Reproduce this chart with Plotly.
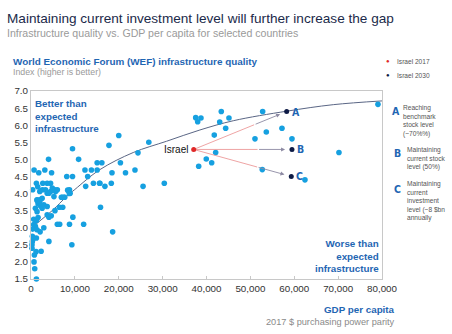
import plotly.graph_objects as go

# ---- Data ----
country_gdp = [
    # dense low-income cluster
    3690, 4460, 5610, 6920, 7540, 8920, 1380, 2000, 1610, 2150, 1000, 1380, 2540, 2920, 3690,
    5460, 6460, 7230, 3690, 4080, 4610, 620, 1230, 1610, 620, 1000, 380, 1380, 2920, 2080,
    310, 620, 1230, 310, 230, 230, 1150, 2310, 770, 690, 850, 1230, 4080, 9310, 9540,
    8770, 12000, 6000, 6540, 15840, 18610,
    1230, 2690, 3690, 4460, 385, 1540, 2610, 3300, 4850, 5460, 6000, 4080, 2000, 2540,
    1380, 2000, 5230, 7150, 7690, 8770, 8360, 8730,
    # middle group
    4000, 700, 1770, 3150, 4690, 8150, 9460, 9460, 10850,
    20000, 26850, 17770, 24380, 15080, 16150, 20380,
    12300, 13770, 15080, 18460, 21540, 23700, 12920,
    18300, 14230, 15620, 16850, 12460, 25540, 30380, 15700,
    # high-income group
    37540, 38740, 37990, 43370, 45120, 43010, 41770, 44370, 52800, 53630, 51050,
    42090, 39950, 41180, 38220, 52710, 57200, 59480, 70190, 62440, 79080,
]
country_wef = [
    4.01, 4.06, 4.06, 3.89, 3.89, 4.01, 3.82, 3.82, 3.70, 3.64, 3.57, 3.47, 3.57, 3.67, 3.62,
    3.50, 3.60, 3.60, 3.38, 3.31, 3.35, 3.25, 3.21, 3.30, 3.09, 3.04, 2.96, 2.94, 3.00, 2.88,
    2.75, 2.70, 2.70, 2.60, 2.50, 2.40, 2.30, 2.31, 2.20, 2.00, 1.80, 1.50, 2.60, 2.50, 3.31,
    3.10, 3.10, 3.10, 3.10, 3.60, 2.88,
    4.30, 4.30, 4.30, 4.30, 4.11, 4.20, 4.11, 4.11, 4.16, 4.11, 4.11, 4.01, 4.06, 3.86,
    3.80, 3.77, 3.91, 3.89, 3.89, 4.11, 4.10, 4.00,
    5.00, 4.69, 4.61, 4.69, 4.61, 4.50, 4.50, 5.31, 5.00,
    5.70, 5.50, 5.41, 5.19, 4.90, 4.90, 4.90,
    4.69, 4.69, 4.69, 4.61, 4.61, 4.69, 4.50,
    4.30, 4.30, 4.30, 4.21, 4.21, 4.21, 4.30, 4.30,
    6.22, 6.21, 6.10, 6.40, 6.21, 6.09, 5.71, 5.91, 6.40, 5.80, 5.60,
    5.20, 5.01, 4.90, 4.80, 4.70, 5.91, 5.60, 5.20, 4.40, 6.61,
]

fit_gdp = [0, 2500, 5000, 8000, 10000, 15700, 23300, 30900, 38500, 46100, 58300, 68900, 80000]
fit_wef = [2.98, 3.25, 3.52, 3.90, 4.12, 4.70, 5.20, 5.53, 5.86, 6.13, 6.41, 6.60, 6.71]

israel_2017 = (37080, 5.29)
scenario_labels = ["A", "B", "C"]
scenario_gdp = [58270, 59480, 59320]
scenario_wef = [6.40, 5.29, 4.50]
scenario_text = [
    "Reaching<br>benchmark<br>stock level<br>(~70%%)",
    "Maintaining<br>current stock<br>level (50%)",
    "Maintaining<br>current<br>investment<br>level (~8 $bn<br>annually",
]

x_ticks = [0, 10000, 20000, 30000, 40000, 50000, 60000, 70000, 80000]
y_ticks = [1.5, 2.0, 2.5, 3.0, 3.5, 4.0, 4.5, 5.0, 5.5, 6.0, 6.5, 7.0]

# ---- Layout geometry ----
W, H = 452, 334
L, R, T, B = 31, 382, 91, 279

def px(x, y):
    return (x - L) / (R - L), (B - y) / (B - T)

BLUE = "#16a0e0"
NAVY = "#0d1a45"
TXTBLUE = "#1f66b3"
FONT = "Liberation Sans, Arial, sans-serif"
NARROW = "Liberation Sans Narrow, DejaVu Sans Condensed, " + FONT

fig = go.Figure()

fig.add_trace(go.Scatter(x=fit_gdp, y=fit_wef, mode="lines",
                         line=dict(color="#5a6685", width=1, shape="spline", smoothing=1.0),
                         hoverinfo="skip", showlegend=False))

fig.add_trace(go.Scatter(x=country_gdp, y=country_wef, mode="markers",
                         marker=dict(color=BLUE, size=5.6), cliponaxis=False,
                         showlegend=False))

# arrows from Israel 2017 to scenarios
for gx, gy in zip(scenario_gdp, scenario_wef):
    dx = gx - israel_2017[0]
    dy = gy - israel_2017[1]
    ex, ey = israel_2017[0] + dx * 0.93, israel_2017[1] + dy * 0.93
    mx, my = israel_2017[0] + dx * 0.65, israel_2017[1] + dy * 0.65
    fig.add_trace(go.Scatter(x=[israel_2017[0], mx], y=[israel_2017[1], my], mode="lines",
                             line=dict(color="#ec9a9a", width=0.9), hoverinfo="skip",
                             showlegend=False))
    fig.add_annotation(x=ex, y=ey, ax=mx, ay=my, xref="x", yref="y", axref="x", ayref="y",
                       text="", showarrow=True, arrowhead=2, arrowsize=0.9,
                       arrowwidth=0.9, arrowcolor="#8d8aa3")

fig.add_trace(go.Scatter(x=scenario_gdp, y=scenario_wef, mode="markers",
                         marker=dict(color=NAVY, size=5), showlegend=False, cliponaxis=False))
fig.add_trace(go.Scatter(x=[israel_2017[0]], y=[israel_2017[1]], mode="markers",
                         marker=dict(color="#e02828", size=5), showlegend=False, cliponaxis=False))

# scenario letters beside the dark points
for lab, gx, gy in zip(scenario_labels, scenario_gdp, scenario_wef):
    fig.add_annotation(x=gx, y=gy, xref="x", yref="y", text="<b>%s</b>" % lab,
                       showarrow=False, xanchor="left", xshift=3,
                       font=dict(size=10.5, color=TXTBLUE, family=NARROW))

fig.add_annotation(x=israel_2017[0], y=israel_2017[1], xref="x", yref="y", text="Israel",
                   showarrow=False, xanchor="right", xshift=-4,
                   font=dict(size=10, color="#111", family=FONT))

def ann(x, y, text, size, color, xanchor="left", yanchor="middle", bold=False, align="left"):
    ax_, ay_ = px(x, y)
    fig.add_annotation(x=ax_, y=ay_, xref="paper", yref="paper",
                       text=("<b>%s</b>" % text) if bold else text, showarrow=False,
                       xanchor=xanchor, yanchor=yanchor, align=align,
                       font=dict(size=size, color=color, family=FONT))

ann(5, 18, "Maintaining current investment level will further increase the gap", 13.6, "#1b2a4a")
ann(5, 33, "Infrastructure quality vs. GDP per capita for selected countries", 10.6, "#9a9a9a")
ann(11, 61, "World Economic Forum (WEF) infrastructure quality", 9.9, TXTBLUE, bold=True)
ann(11, 72, "Index (higher is better)", 8.8, "#9a9a9a")

ann(33, 116, "Better than<br>expected<br>infrastructure", 9.8, TXTBLUE, bold=True)
ann(381, 256, "Worse than<br>expected<br>infrastructure", 9.8, TXTBLUE, xanchor="right",
    bold=True, align="right")

ann(397, 309, "GDP per capita", 9.8, TXTBLUE, xanchor="right", bold=True)
ann(397, 322, "2017 $ purchasing power parity", 9.2, "#8a8a8a", xanchor="right")

# legend
for yy, col, lab in [(61, "#e02828", "Israel 2017"), (75, NAVY, "Israel 2030")]:
    ann(388, yy, "●", 6, col, xanchor="center")
    ann(395, yy, lab, 6.6, "#555")

# right-hand scenario notes
for lab, lx, ly, tx, ty, txt in [
    ("A", 396, 111, 401, 120.5, scenario_text[0]),
    ("B", 398, 153, 405, 158, scenario_text[1]),
    ("C", 398, 189, 405, 200.5, scenario_text[2]),
]:
    a_x, a_y = px(lx, ly)
    fig.add_annotation(x=a_x, y=a_y, xref="paper", yref="paper", text="<b>%s</b>" % lab,
                       showarrow=False, xanchor="center", yanchor="middle",
                       font=dict(size=10.5, color=TXTBLUE, family=NARROW))
    t_x, t_y = px(tx, ty)
    fig.add_annotation(x=t_x, y=t_y, xref="paper", yref="paper", text=txt,
                       showarrow=False, xanchor="left", yanchor="middle", align="left",
                       font=dict(size=6.6, color="#555", family=FONT))

fig.update_xaxes(range=[0, 80000], tickvals=x_ticks, tickformat=",", showgrid=False,
                 zeroline=False, showline=True, mirror=True, linecolor="#c8c8c8", linewidth=1,
                 ticks="inside", ticklen=3, tickcolor="#c8c8c8",
                 tickfont=dict(size=9.8, color="#333", family=FONT))
fig.update_yaxes(range=[1.5, 7.0], tickvals=y_ticks, tickformat=".1f", showgrid=False,
                 zeroline=False, showline=True, mirror=True, linecolor="#c8c8c8", linewidth=1,
                 ticks="", tickfont=dict(size=9.8, color="#333", family=FONT))

fig.update_layout(width=W, height=H, margin=dict(l=L, r=W - R, t=T, b=H - B),
                  paper_bgcolor="white", plot_bgcolor="white", showlegend=False,
                  font=dict(family=FONT))

fig.write_html("out.html")
